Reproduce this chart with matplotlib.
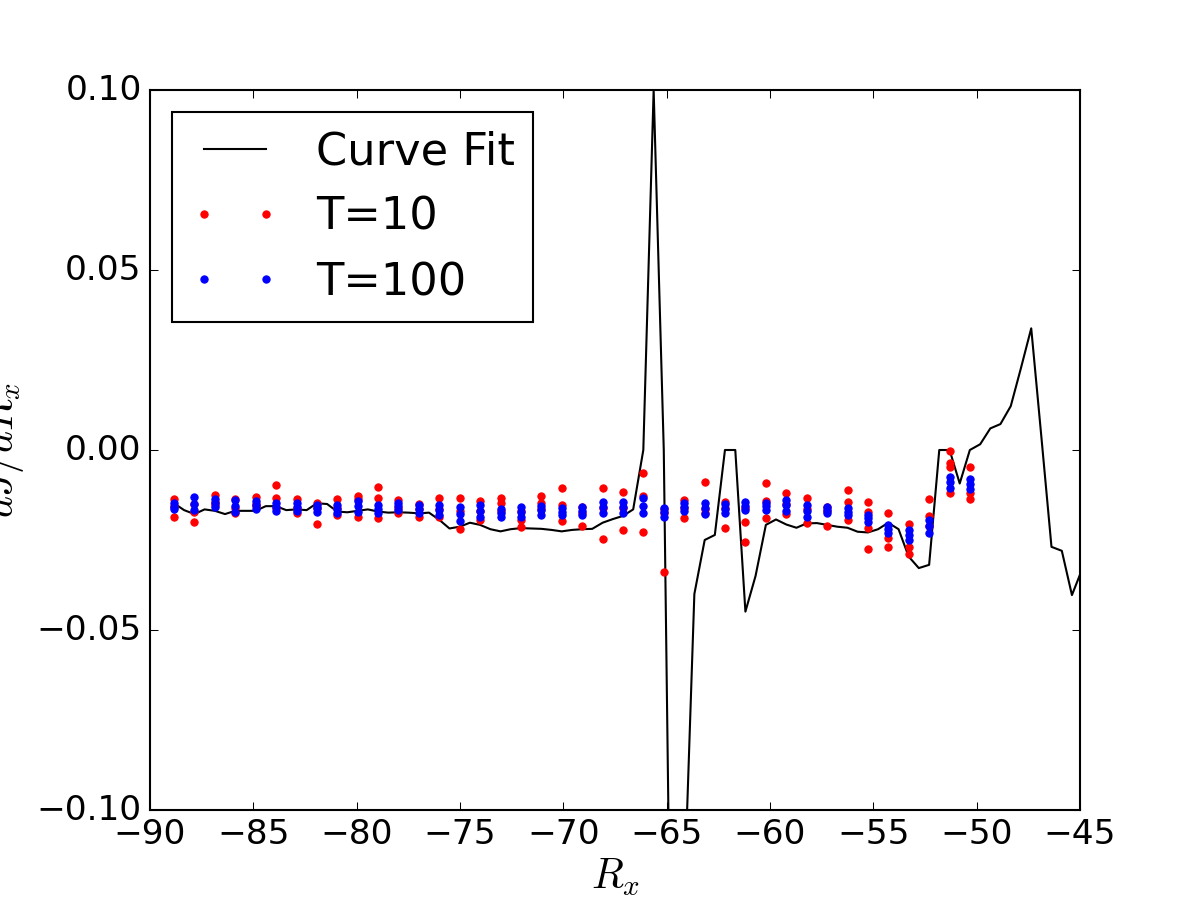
import matplotlib
matplotlib.use("Agg")
import matplotlib.pyplot as plt

plt.style.use("classic")

# ---- data -------------------------------------------------------------
fit_x = [-88.84, -88.35, -87.85, -87.36, -86.86, -86.37, -85.88, -85.38, -84.89, -84.40,
         -83.90, -83.41, -82.91, -82.42, -81.93, -81.43, -80.94, -80.45, -79.95, -79.46,
         -78.96, -78.47, -77.98, -77.48, -76.99, -76.50, -76.00, -75.51, -75.01, -74.52,
         -74.03, -73.53, -73.04, -72.55, -72.05, -71.56, -71.06, -70.57, -70.08, -69.58,
         -69.09, -68.60, -68.10, -67.61, -67.11, -66.62, -66.13, -65.63, -65.14, -64.65,
         -64.15, -63.66, -63.16, -62.67, -62.18, -61.68, -61.19, -60.70, -60.20, -59.71,
         -59.21, -58.72, -58.23, -57.73, -57.24, -56.75, -56.25, -55.76, -55.26, -54.77,
         -54.28, -53.78, -53.29, -52.80, -52.30, -51.81, -51.31, -50.82, -50.33, -49.83,
         -49.34, -48.85, -48.35, -47.86, -47.36, -46.87, -46.38, -45.88, -45.39, -44.89]

fit_y = [-0.0148, -0.0167, -0.0178, -0.0165, -0.0169, -0.0178, -0.0169, -0.0169, -0.0169, -0.0156,
         -0.0156, -0.0167, -0.0165, -0.0167, -0.0148, -0.0150, -0.0171, -0.0173, -0.0169, -0.0165,
         -0.0171, -0.0174, -0.0173, -0.0174, -0.0176, -0.0174, -0.0194, -0.0218, -0.0213, -0.0202,
         -0.0208, -0.0220, -0.0226, -0.0220, -0.0217, -0.0218, -0.0219, -0.0222, -0.0226, -0.0222,
         -0.0220, -0.0219, -0.0202, -0.0192, -0.0183, -0.0165, 0.0000, 0.1000, 0.0000, -0.2200,
         -0.1240, -0.0400, -0.0250, -0.0236, 0.0000, 0.0000, -0.0449, -0.0350, -0.0208, -0.0193,
         -0.0207, -0.0216, -0.0204, -0.0203, -0.0208, -0.0213, -0.0216, -0.0227, -0.0229, -0.0220,
         -0.0202, -0.0220, -0.0296, -0.0328, -0.0319, 0.0000, 0.0000, -0.0093, 0.0000, 0.0016,
         0.0060, 0.0072, 0.0122, 0.0227, 0.0338, 0.0037, -0.0269, -0.0280, -0.0403, -0.0330]

col_x = [-88.84, -87.85, -86.86, -85.88, -84.89, -83.90, -82.91, -81.93, -80.94, -79.95,
         -78.96, -77.98, -76.99, -76.00, -75.01, -74.03, -73.04, -72.05, -71.06, -70.08,
         -69.09, -68.10, -67.11, -66.13, -65.14, -64.15, -63.16, -62.17, -61.19, -60.20,
         -59.21, -58.22, -57.24, -56.25, -55.26, -54.27, -53.29, -52.30, -51.31, -50.32]

t10_vals = [
    [-0.0137, -0.0185, -0.0155], [-0.0171, -0.0199, -0.0150], [-0.0125, -0.0153, -0.0145],
    [-0.0137, -0.0174, -0.0160], [-0.0130, -0.0156, -0.0150], [-0.0097, -0.0133, -0.0160],
    [-0.0137, -0.0176, -0.0160], [-0.0148, -0.0206, -0.0160], [-0.0137, -0.0181, -0.0160],
    [-0.0128, -0.0187, -0.0135], [-0.0104, -0.0133, -0.0190], [-0.0139, -0.0174, -0.0160],
    [-0.0151, -0.0185, -0.0165], [-0.0134, -0.0185, -0.0165], [-0.0134, -0.0219, -0.0170],
    [-0.0141, -0.0194, -0.0170], [-0.0134, -0.0148, -0.0170], [-0.0194, -0.0213, -0.0170],
    [-0.0128, -0.0148, -0.0165], [-0.0106, -0.0153, -0.0196], [-0.0157, -0.0210, -0.0175],
    [-0.0106, -0.0248, -0.0160], [-0.0116, -0.0222, -0.0160], [-0.0063, -0.0128, -0.0228],
    [-0.0176, -0.0340, -0.0165], [-0.0139, -0.0188, -0.0160], [-0.0090, -0.0165, -0.0176],
    [-0.0144, -0.0216, -0.0160], [-0.0199, -0.0255, -0.0160], [-0.0093, -0.0141, -0.0190],
    [-0.0119, -0.0178, -0.0150], [-0.0134, -0.0204, -0.0165], [-0.0159, -0.0211, -0.0170],
    [-0.0112, -0.0144, -0.0194], [-0.0144, -0.0171, -0.0218, -0.0275],
    [-0.0174, -0.0245, -0.0269], [-0.0206, -0.0270, -0.0289], [-0.0137, -0.0183, -0.0210],
    [-0.0003, -0.0037, -0.0048, -0.0119], [-0.0048, -0.0119, -0.0137]]

t100_vals = [
    [-0.0148, -0.0157, -0.0165], [-0.0130, -0.0150, -0.0167], [-0.0136, -0.0146, -0.0157],
    [-0.0139, -0.0155, -0.0171], [-0.0141, -0.0153, -0.0165], [-0.0146, -0.0158, -0.0169],
    [-0.0148, -0.0158, -0.0169], [-0.0153, -0.0162, -0.0171], [-0.0153, -0.0165, -0.0176],
    [-0.0141, -0.0156, -0.0171], [-0.0153, -0.0165, -0.0176], [-0.0146, -0.0156, -0.0167],
    [-0.0153, -0.0165, -0.0176], [-0.0153, -0.0167, -0.0181], [-0.0157, -0.0177, -0.0196],
    [-0.0153, -0.0169, -0.0185], [-0.0165, -0.0175, -0.0185], [-0.0157, -0.0171, -0.0185],
    [-0.0156, -0.0168, -0.0181], [-0.0162, -0.0172, -0.0181], [-0.0157, -0.0169, -0.0181],
    [-0.0144, -0.0159, -0.0174], [-0.0144, -0.0159, -0.0174], [-0.0134, -0.0155, -0.0176],
    [-0.0162, -0.0173, -0.0185], [-0.0146, -0.0158, -0.0169], [-0.0146, -0.0162, -0.0178],
    [-0.0150, -0.0163, -0.0176], [-0.0144, -0.0155, -0.0167], [-0.0146, -0.0156, -0.0167],
    [-0.0139, -0.0154, -0.0169], [-0.0153, -0.0169, -0.0185], [-0.0157, -0.0167, -0.0176],
    [-0.0162, -0.0172, -0.0181], [-0.0181, -0.0190, -0.0199], [-0.0208, -0.0220, -0.0231],
    [-0.0222, -0.0236, -0.0250], [-0.0194, -0.0212, -0.0230], [-0.0074, -0.0090, -0.0106],
    [-0.0081, -0.0095, -0.0109]]

x_ticks = [-90, -85, -80, -75, -70, -65, -60, -55, -50, -45]
y_ticks = [-0.10, -0.05, 0.00, 0.05, 0.10]


def flatten(xs, groups):
    fx, fy = [], []
    for x, g in zip(xs, groups):
        for v in g:
            fx.append(x)
            fy.append(v)
    return fx, fy


# ---- plot -------------------------------------------------------------
fig = plt.figure(figsize=(8, 6), facecolor="white")
ax = fig.add_axes([0.125, 0.1, 0.775, 0.8])

ax.plot(fit_x, fit_y, "k-", lw=1.0, label="Curve Fit")
rx, ry = flatten(col_x, t10_vals)
ax.plot(rx, ry, "r.", ms=7, mec="r", label="T=10")
bx, by = flatten(col_x, t100_vals)
ax.plot(bx, by, "b.", ms=7, mec="b", label="T=100")

ax.set_xlim(-90, -45)
ax.set_ylim(-0.1, 0.1)
ax.set_xticks(x_ticks)
ax.set_yticks(y_ticks)
ax.tick_params(labelsize=16.5)
ax.set_xlabel(r"$R_x$", fontsize=20, labelpad=2)
ax.set_ylabel(r"$dJ/dR_x$", fontsize=20)

leg = ax.legend(loc="upper left", fontsize=21.5, numpoints=2,
                handlelength=2.0, handletextpad=0.8)
leg.get_frame().set_linewidth(1.0)

fig.savefig("out.png", dpi=150, facecolor="white")
